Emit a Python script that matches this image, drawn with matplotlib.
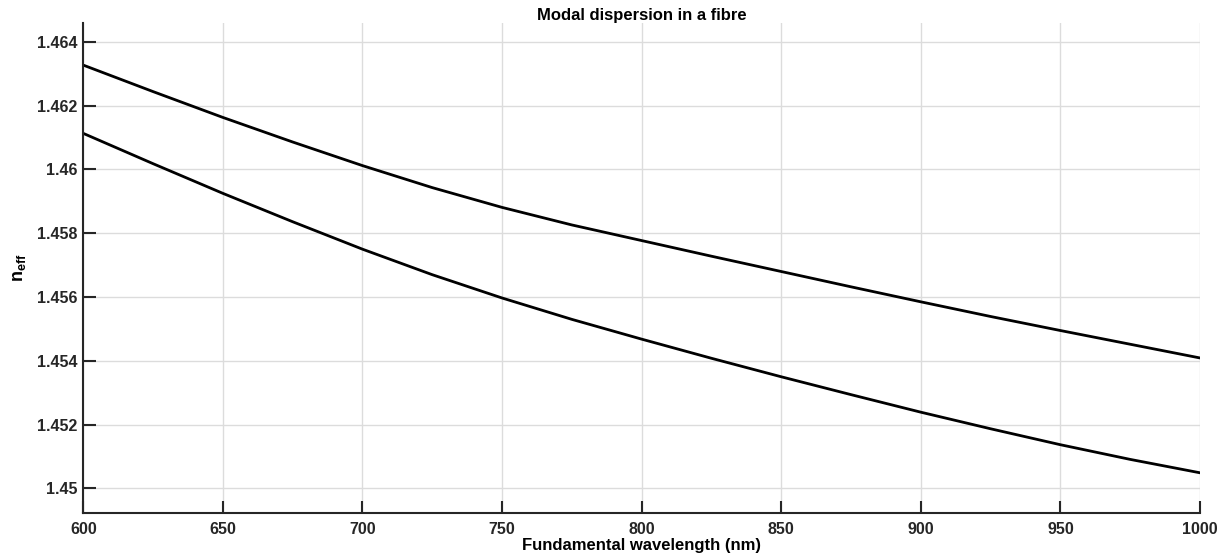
import numpy as np
import matplotlib.pyplot as plt

plt.rcParams['font.family'] = ['Liberation Sans', 'DejaVu Sans']
plt.rcParams['mathtext.fontset'] = 'custom'
plt.rcParams['mathtext.bf'] = 'Liberation Sans:bold'
plt.rcParams['mathtext.rm'] = 'Liberation Sans'

wavelength = [600, 625, 650, 675, 700, 725, 750, 775, 800,
              825, 850, 875, 900, 925, 950, 975, 1000]
n_mode1 = [1.46327, 1.46244, 1.46163, 1.46086, 1.46012, 1.45943, 1.45881, 1.45826, 1.45777,
           1.45728, 1.45680, 1.45632, 1.45585, 1.45539, 1.45495, 1.45452, 1.45409]
n_mode2 = [1.46113, 1.46018, 1.45925, 1.45836, 1.45750, 1.45670, 1.45597, 1.45530, 1.45468,
           1.45408, 1.45350, 1.45294, 1.45239, 1.45187, 1.45137, 1.45091, 1.45049]
yticks = [1.45, 1.452, 1.454, 1.456, 1.458, 1.46, 1.462, 1.464]
ytick_labels = ['1.45', '1.452', '1.454', '1.456', '1.458', '1.46', '1.462', '1.464']

fig = plt.figure(figsize=(12.29, 5.58), dpi=100)
ax = fig.add_axes([0.0678, 0.0801, 0.9086, 0.8792])

ax.plot(wavelength, n_mode1, color='black', lw=2)
ax.plot(wavelength, n_mode2, color='black', lw=2)

ax.set_xlim(600, 1000)
ax.set_ylim(1.44922, 1.46460)
ax.set_xticks(np.arange(600, 1001, 50))
ax.set_yticks(yticks)
ax.set_yticklabels(ytick_labels)

ax.grid(True, color='#dcdcdc', lw=1)
ax.set_axisbelow(True)
for s in ['top', 'right']:
    ax.spines[s].set_visible(False)
for s in ['left', 'bottom']:
    ax.spines[s].set_color('#262626')
    ax.spines[s].set_linewidth(1.5)
ax.tick_params(direction='in', length=9, width=1.5, color='#262626', labelsize=11.5)
ax.tick_params(axis='x', pad=6)
ax.tick_params(axis='y', pad=4.5)
for lbl in ax.get_xticklabels() + ax.get_yticklabels():
    lbl.set_fontweight('bold')
    lbl.set_color('#262626')

ax.set_title('Modal dispersion in a fibre', fontsize=12, fontweight='bold', pad=1.5)
ax.set_xlabel('Fundamental wavelength (nm)', fontsize=12, fontweight='bold', labelpad=1)
ax.set_ylabel(r'$\mathbf{n}_{\mathbf{eff}}$', fontsize=13, labelpad=6)

fig.savefig('out.png', dpi=100)
